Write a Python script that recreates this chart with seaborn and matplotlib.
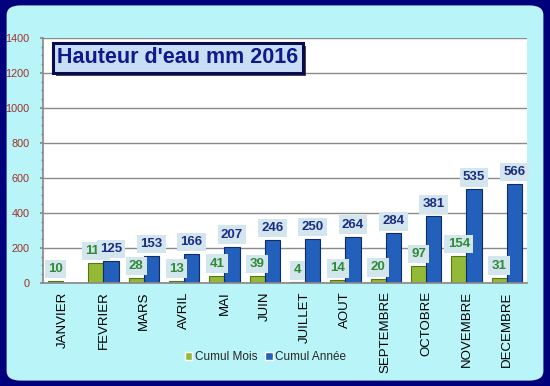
import matplotlib
matplotlib.use("Agg")
import matplotlib.pyplot as plt
import matplotlib.patheffects as pe
from matplotlib.patches import FancyBboxPatch
from matplotlib.ticker import MultipleLocator
import seaborn as sns
import pandas as pd
import numpy as np

months = ["JANVIER", "FEVRIER", "MARS", "AVRIL", "MAI", "JUIN", "JUILLET",
          "AOUT", "SEPTEMBRE", "OCTOBRE", "NOVEMBRE", "DECEMBRE"]
cumul_mois = [10, 115, 28, 13, 41, 39, 4, 14, 20, 97, 154, 31]
cumul_annee = [np.nan, 125, 153, 166, 207, 246, 250, 264, 284, 381, 535, 566]
series = ["Cumul Mois", "Cumul Année"]
title = "Hauteur d'eau mm 2016"

df = pd.DataFrame({
    "mois": months * 2,
    "valeur": cumul_mois + cumul_annee,
    "serie": [series[0]] * 12 + [series[1]] * 12,
})

sns.set_theme(style="white")
plt.rcParams["font.family"] = ["Liberation Sans", "DejaVu Sans"]

fig = plt.figure(figsize=(5.5, 3.86), dpi=100)
fig.patch.set_facecolor("#00007c")
panel = FancyBboxPatch((0.012, 0.014), 0.976, 0.972, boxstyle="round,pad=0,rounding_size=0.025",
                       transform=fig.transFigure, facecolor="#b9f5f8", edgecolor="none", zorder=-10)
fig.patches.append(panel)

ax = fig.add_axes([0.078, 0.267, 0.88, 0.635])
ax.set_zorder(1)
ax.set_facecolor("white")

colors = {series[0]: "#93b936", series[1]: "#2260bb"}
sns.barplot(data=df, x="mois", y="valeur", hue="serie", hue_order=series,
            palette=colors, width=0.75, ax=ax, legend=True, saturation=1)

edges = ["#56751a", "#0d2c6e"]
label_cols = ["#2f8a35", "#1b2c82"]
for k, cont in enumerate(ax.containers[:2]):
    for b in cont:
        b.set_edgecolor(edges[k])
        b.set_linewidth(0.8)
        h = b.get_height()
        if np.isnan(h):
            continue
        ax.annotate(f"{h:.0f}", (b.get_x() + b.get_width() / 2, h),
                    xytext=(0, 12), textcoords="offset pixels", ha="center", va="center",
                    fontsize=9.5, fontweight="bold", color=label_cols[k], zorder=5 + k,
                    bbox=dict(boxstyle="square,pad=0.25", facecolor="#d3e6ee", edgecolor="none"))

ax.set_ylim(0, 1400)
ax.set_xlim(-0.5, len(months) - 0.5)
ax.yaxis.set_major_locator(MultipleLocator(200))
ax.yaxis.set_minor_locator(MultipleLocator(50))
ax.grid(axis="y", color="#8a8a8a", linewidth=1)
ax.set_axisbelow(True)
ax.set_xlabel("")
ax.set_ylabel("")
for s in ["top", "right"]:
    ax.spines[s].set_visible(False)
ax.spines["left"].set_color("#8a8a8a")
ax.spines["bottom"].set_color("#8a8a8a")
ax.tick_params(axis="y", which="both", left=True, length=2.5, color="#8a8a8a",
               labelsize=7.8, labelcolor="#a0302a", pad=7)
ax.tick_params(axis="y", which="minor", length=1.5)
ax.tick_params(axis="x", length=0, labelsize=9.5, labelcolor="black", pad=6)
plt.setp(ax.get_xticklabels(), rotation=90)

# title box
t = ax.text(0.03, 0.918, title, transform=ax.transAxes, fontsize=15.5, fontweight="bold",
            color="#0c1a8a", ha="left", va="center", zorder=8,
            bbox=dict(boxstyle="square,pad=0.2", facecolor="#c8def4", edgecolor="#0a0a50", linewidth=2.2))
t.get_bbox_patch().set_path_effects([pe.SimplePatchShadow(offset=(2, -2), shadow_rgbFace="#202020", alpha=0.8),
                                     pe.Normal()])

leg = ax.legend(loc="upper center", bbox_to_anchor=(0.46, -0.235), ncol=2, frameon=False,
                fontsize=8.5, handlelength=0.6, handleheight=0.6, handletextpad=0.2,
                columnspacing=0.7)

fig.savefig("out.png", dpi=100, facecolor=fig.get_facecolor())
